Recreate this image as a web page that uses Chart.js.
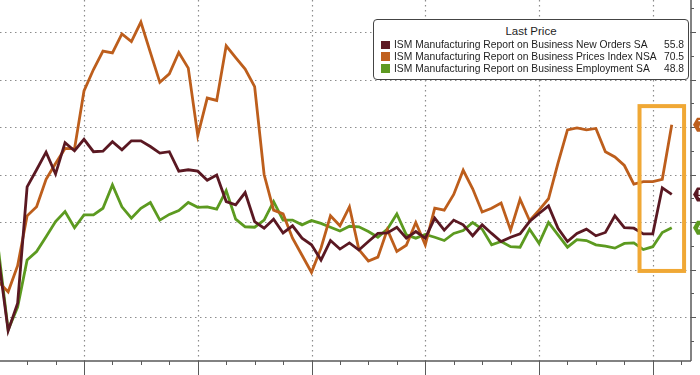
<!DOCTYPE html>
<html>
<head>
<meta charset="utf-8">
<script src="https://cdn.jsdelivr.net/npm/chart.js@4"></script>
<style>
  body { margin: 0; background: #fff; }
  #wrap { position: relative; width: 700px; height: 375px; overflow: hidden; }
  #legend {
    position: absolute; left: 373px; top: 19px; width: 314px; height: 59px;
    border: 1.5px solid #444; border-radius: 4px; background: #fff;
    font-family: "Liberation Sans", Arial, sans-serif; font-size: 10.3px; color: #1e1e1e;
  }
  #legend .title { text-align: center; font-size: 11.5px; margin-top: 5px; height: 14px; }
  #legend .row { position: relative; height: 11.8px; line-height: 11.8px; padding-left: 20px; white-space: nowrap; }
  #legend .sw { position: absolute; left: 7px; top: 1.5px; width: 8.5px; height: 8.5px; }
  #legend .val { position: absolute; right: 4px; top: 0; }
</style>
</head>
<body>
<div id="wrap">
  <canvas id="ismChart" width="700" height="375"></canvas>
  <div id="legend">
    <div class="title">Last Price</div>
    <div class="row"><span class="sw" style="background:#5e1a24"></span>ISM Manufacturing Report on Business New Orders SA<span class="val">55.8</span></div>
    <div class="row"><span class="sw" style="background:#c0601e"></span>ISM Manufacturing Report on Business Prices Index NSA<span class="val">70.5</span></div>
    <div class="row"><span class="sw" style="background:#5e9a22"></span>ISM Manufacturing Report on Business Employment SA<span class="val">48.8</span></div>
  </div>
</div>
<script>
    // monthly, March 2020 (index 0) to February 2026 (index 71)
    const startYear = 2020;
    const startMonth = 3;

    const newOrders = [
        42.2, 27.1, 32.9, 57.4, 61.0, 64.7, 60.1, 66.7, 65.0, 67.4,
        64.8, 64.9, 66.9, 65.2, 67.1, 67.1, 65.9, 64.5, 64.8, 60.7, 61.0, 60.7,
        58.8, 59.9, 54.3, 53.6, 56.2, 50.1, 48.7, 50.6, 47.7, 49.2, 46.6, 45.2,
        42.0, 46.1, 44.3, 45.6, 44.1, 45.9, 47.6, 47.7, 48.9, 46.6, 48.0, 46.6,
        50.8, 48.3, 50.4, 49.4, 47.1, 49.4, 47.6, 45.9, 46.8, 47.5, 50.1, 51.8,
        53.4, 48.7, 45.9, 47.6, 48.5, 47.1, 47.8, 51.3, 48.8, 48.7, 47.5, 47.5,
        57.2, 55.8
    ];

    const prices = [
        37.4, 35.3, 40.8, 51.3, 53.2, 59.0, 62.3, 65.5, 65.4, 77.6,
        82.1, 86.0, 85.6, 89.6, 88.0, 92.1, 85.7, 79.4, 81.2, 85.7, 82.4, 68.2,
        76.1, 75.6, 87.1, 84.6, 82.2, 78.5, 60.0, 52.5, 51.7, 46.6, 43.0, 39.4,
        44.5, 51.3, 49.2, 53.2, 44.2, 41.8, 42.6, 48.4, 43.8, 45.1, 49.9, 45.2,
        52.9, 52.5, 55.8, 60.9, 57.0, 52.1, 52.9, 54.0, 48.3, 54.8, 50.3, 52.5,
        54.9, 62.4, 69.4, 69.8, 69.4, 69.7, 64.8, 63.7, 61.9, 58.0, 58.5, 58.5,
        59.0, 70.5
    ];

    const employment = [
        43.8, 27.3, 32.1, 42.0, 43.8, 46.9, 50.1, 52.2, 48.8, 51.5,
        51.5, 52.9, 57.8, 53.2, 50.8, 52.9, 54.1, 50.4, 51.6, 52.4, 54.1, 53.1,
        53.2, 52.7, 56.6, 50.6, 49.0, 48.9, 50.4, 54.3, 50.4, 50.4, 49.4, 50.3,
        49.7, 48.9, 48.1, 49.1, 49.0, 48.0, 46.8, 48.5, 51.7, 47.3, 46.6, 47.4,
        46.8, 46.1, 47.6, 48.2, 49.9, 48.5, 45.2, 45.9, 44.8, 44.7, 48.5, 45.5,
        49.9, 47.3, 44.7, 46.3, 46.1, 45.2, 44.9, 44.5, 45.5, 45.6, 44.2, 44.8,
        47.8, 48.8
    ];

    const yGridValues = [30, 40, 50, 60, 70, 80, 90];
    const yearEndIdx = [9, 21, 33, 45, 57, 69];   // December points, on the year lines

    const colors = { orders: '#5a1822', prices: '#bd5e1c', emp: '#5c9a20' };

    function toPoints(arr) {
        return arr.map(function (v, i) { return { x: i, y: v }; });
    }

    // dotted grid, axes with ticks, highlight box and the last-value tags
    const decorations = {
        id: 'decorations',
        beforeDatasetsDraw(chart) {
            const ctx = chart.ctx;
            const xs = chart.scales.x, ys = chart.scales.y;
            const a = chart.chartArea;
            ctx.save();
            ctx.strokeStyle = '#8c8c8c';
            ctx.lineWidth = 1.2;
            ctx.setLineDash([1.5, 3.5]);
            yGridValues.forEach(function (v) {
                const y = Math.round(ys.getPixelForValue(v)) + 0.5;
                ctx.beginPath(); ctx.moveTo(a.left, y); ctx.lineTo(a.right, y); ctx.stroke();
            });
            yearEndIdx.forEach(function (i) {
                const x = Math.round(xs.getPixelForValue(i)) + 0.5;
                ctx.beginPath(); ctx.moveTo(x, a.top); ctx.lineTo(x, a.bottom); ctx.stroke();
            });
            ctx.restore();
        },
        afterDatasetsDraw(chart) {
            const ctx = chart.ctx;
            const xs = chart.scales.x, ys = chart.scales.y;
            const a = chart.chartArea;
            ctx.save();
            ctx.strokeStyle = '#5a5a5a';
            ctx.lineWidth = 1.5;
            ctx.beginPath();
            ctx.moveTo(a.left, a.bottom); ctx.lineTo(a.right, a.bottom);
            ctx.moveTo(a.right, a.top); ctx.lineTo(a.right, a.bottom);
            ctx.stroke();

            ctx.lineWidth = 1;
            for (let i = 0; i < 75; i += 3) {
                const x = Math.round(xs.getPixelForValue(i)) + 0.5;
                if (x < a.left || x > a.right) continue;
                const major = yearEndIdx.indexOf(i) >= 0;
                ctx.beginPath(); ctx.moveTo(x, a.bottom); ctx.lineTo(x, a.bottom + (major ? 16 : 4)); ctx.stroke();
            }
            for (let v = 25; v <= 95; v += 5) {
                const y = Math.round(ys.getPixelForValue(v)) + 0.5;
                const major = v % 10 === 0;
                ctx.beginPath(); ctx.moveTo(a.right, y); ctx.lineTo(a.right + (major ? 5 : 3), y); ctx.stroke();
            }

            // highlight box around the latest months
            ctx.strokeStyle = '#f0a835';
            ctx.lineWidth = 4;
            const bx1 = xs.getPixelForValue(67.6), bx2 = xs.getPixelForValue(72.3);
            const by1 = ys.getPixelForValue(74.4), by2 = ys.getPixelForValue(39.7);
            ctx.strokeRect(bx1, by1, bx2 - bx1, by2 - by1);

            // last-value tags on the right edge (cut off by the frame)
            const tags = [
                [prices[prices.length - 1], colors.prices],
                [newOrders[newOrders.length - 1], colors.orders],
                [employment[employment.length - 1], colors.emp]
            ];
            tags.forEach(function (t) {
                const y = ys.getPixelForValue(t[0]);
                const x = a.right + 2;
                ctx.fillStyle = t[1];
                ctx.beginPath();
                ctx.moveTo(x, y);
                ctx.lineTo(x + 4, y - 7);
                ctx.lineTo(x + 30, y - 7);
                ctx.lineTo(x + 30, y + 7);
                ctx.lineTo(x + 4, y + 7);
                ctx.closePath();
                ctx.fill();
                ctx.fillStyle = '#fff';
                ctx.font = 'bold 10px "Liberation Sans", Arial, sans-serif';
                ctx.textBaseline = 'middle';
                ctx.fillText(t[0].toFixed(1), x + 5, y + 0.5);
            });
            ctx.restore();
        }
    };

    const ctx = document.getElementById('ismChart').getContext('2d');

    new Chart(ctx, {
        type: 'line',
        data: {
            datasets: [
                { label: 'New Orders SA', data: toPoints(newOrders), borderColor: colors.orders },
                { label: 'Prices Index NSA', data: toPoints(prices), borderColor: colors.prices },
                { label: 'Employment SA', data: toPoints(employment), borderColor: colors.emp }
            ]
        },
        options: {
            responsive: false,
            animation: false,
            layout: { padding: { left: 0, right: 9, top: 0, bottom: 14 } },
            elements: {
                line: { borderWidth: 2.8, tension: 0, borderJoinStyle: 'miter' },
                point: { radius: 0 }
            },
            scales: {
                x: { type: 'linear', min: 0.14, max: 73.03, display: false },
                y: { type: 'linear', min: 20.74, max: 96.74, display: false }
            },
            plugins: {
                legend: { display: false },
                tooltip: { enabled: false }
            }
        },
        plugins: [decorations]
    });
</script>
</body>
</html>
